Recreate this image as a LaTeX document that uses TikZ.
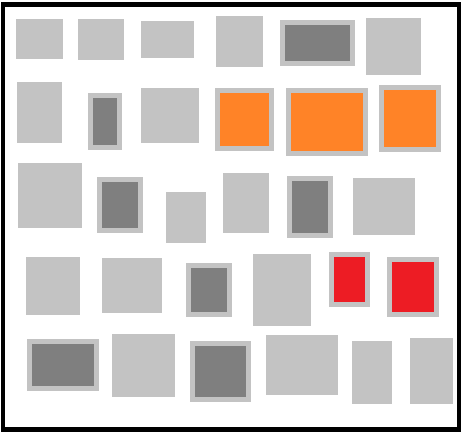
\documentclass[tikz,border=0pt]{standalone}
\definecolor{lg}{HTML}{C3C3C3}
\definecolor{dg}{HTML}{7F7F7F}
\definecolor{org}{HTML}{FF8327}
\definecolor{rd}{HTML}{ED1C24}
\begin{document}
\begin{tikzpicture}[x=1pt,y=-1pt,
  light/.style={fill=lg},
  dark/.style={fill=dg},
  orange/.style={fill=org},
  red/.style={fill=rd},
  frame/.style={draw=black,line width=4.5pt}]
\useasboundingbox (0,0) rectangle (461,437);
\fill[white] (0,0) rectangle (461,437);
% row 1
\fill[light] (16,19) rectangle (63,59);
\fill[light] (78,19) rectangle (124,60);
\fill[light] (141,21) rectangle (194,58);
\fill[light] (216,16) rectangle (263,67);
\fill[light] (280,20) rectangle (355,66);
\fill[dark] (285,25) rectangle (350,61);
\fill[light] (366,18) rectangle (421,75);
% row 2
\fill[light] (17,82) rectangle (62,143);
\fill[light] (88,93) rectangle (122,150);
\fill[dark] (93,98) rectangle (117,145);
\fill[light] (141,88) rectangle (199,143);
\fill[light] (215,88) rectangle (274,151);
\fill[orange] (220,93) rectangle (269,146);
\fill[light] (286,88) rectangle (368,156);
\fill[orange] (291,93) rectangle (363,151);
\fill[light] (379,85) rectangle (441,152);
\fill[orange] (384,90) rectangle (436,147);
% row 3
\fill[light] (18,163) rectangle (82,228);
\fill[light] (97,177) rectangle (143,233);
\fill[dark] (102,182) rectangle (138,228);
\fill[light] (166,192) rectangle (206,243);
\fill[light] (223,173) rectangle (269,233);
\fill[light] (287,176) rectangle (333,238);
\fill[dark] (292,181) rectangle (328,233);
\fill[light] (353,178) rectangle (415,235);
% row 4
\fill[light] (26,257) rectangle (80,315);
\fill[light] (102,258) rectangle (162,313);
\fill[light] (186,263) rectangle (232,317);
\fill[dark] (191,268) rectangle (227,312);
\fill[light] (253,254) rectangle (311,326);
\fill[light] (329,252) rectangle (370,307);
\fill[red] (334,257) rectangle (365,302);
\fill[light] (387,257) rectangle (439,317);
\fill[red] (392,262) rectangle (434,312);
% row 5
\fill[light] (27,339) rectangle (99,391);
\fill[dark] (32,344) rectangle (94,386);
\fill[light] (112,334) rectangle (175,397);
\fill[light] (190,341) rectangle (251,402);
\fill[dark] (195,346) rectangle (246,397);
\fill[light] (266,335) rectangle (338,395);
\fill[light] (352,341) rectangle (392,404);
\fill[light] (410,338) rectangle (453,404);
% frame
\draw[frame] (3,4.7) rectangle (459,429.5);
\end{tikzpicture}
\end{document}
